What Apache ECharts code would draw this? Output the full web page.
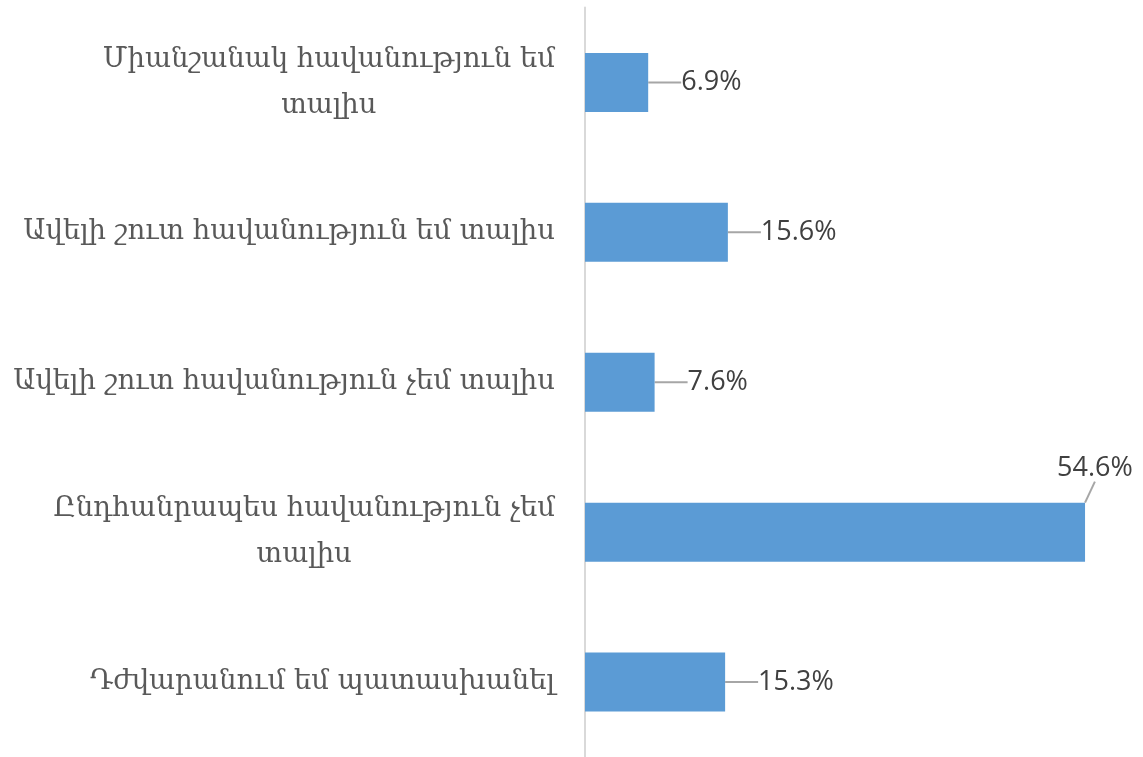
<!DOCTYPE html>
<html>
<head>
<meta charset="utf-8">
<script src="https://cdn.jsdelivr.net/npm/echarts@6/dist/echarts.min.js"></script>
<style>
  html, body { margin: 0; padding: 0; background: #fff; }
  #chart { width: 1143px; height: 757px; }
</style>
</head>
<body>
<div id="chart"></div>
<script>
const categories = [
  'Միանշանակ հավանություն եմ\nտալիս',
  'Ավելի շուտ հավանություն եմ տալիս',
  'Ավելի շուտ հավանություն չեմ տալիս',
  'Ընդհանրապես հավանություն չեմ\nտալիս',
  'Դժվարանում եմ պատասխանել'
];
const values = [6.9, 15.6, 7.6, 54.6, 15.3];

const chart = echarts.init(document.getElementById('chart'));
const option = {
  animation: false,
  grid: { left: 585, right: 8.5, top: 7.5, height: 755 },
  xAxis: {
    type: 'value',
    min: 0,
    max: 60,
    show: false
  },
  yAxis: {
    type: 'category',
    data: categories,
    inverse: true,
    axisLine: { show: true, lineStyle: { color: '#d9d9d9', width: 2 } },
    axisTick: { show: false },
    axisLabel: {
      margin: 30,
      formatter: v => '{a|' + v + '}',
      rich: {
        a: {
          fontFamily: 'DejaVu Serif',
          fontSize: 27.5,
          color: '#595959',
          lineHeight: 46,
          align: 'center'
        }
      }
    }
  },
  series: [
    {
      type: 'bar',
      data: values,
      barWidth: 59,
      itemStyle: { color: '#5b9bd5' },
      label: {
        show: true,
        position: 'right',
        distance: 5,
        formatter: p => p.value.toFixed(1) + '%',
        fontFamily: 'Open Sans',
        fontSize: 27,
        color: '#404040'
      },
      labelLine: { show: true, lineStyle: { color: '#a6a6a6', width: 2 } },
      labelLayout: p => p.dataIndex === 3 ? { dx: -33, dy: -64 } : { dx: 28 }
    }
  ]
};
chart.setOption(option);
</script>
</body>
</html>
